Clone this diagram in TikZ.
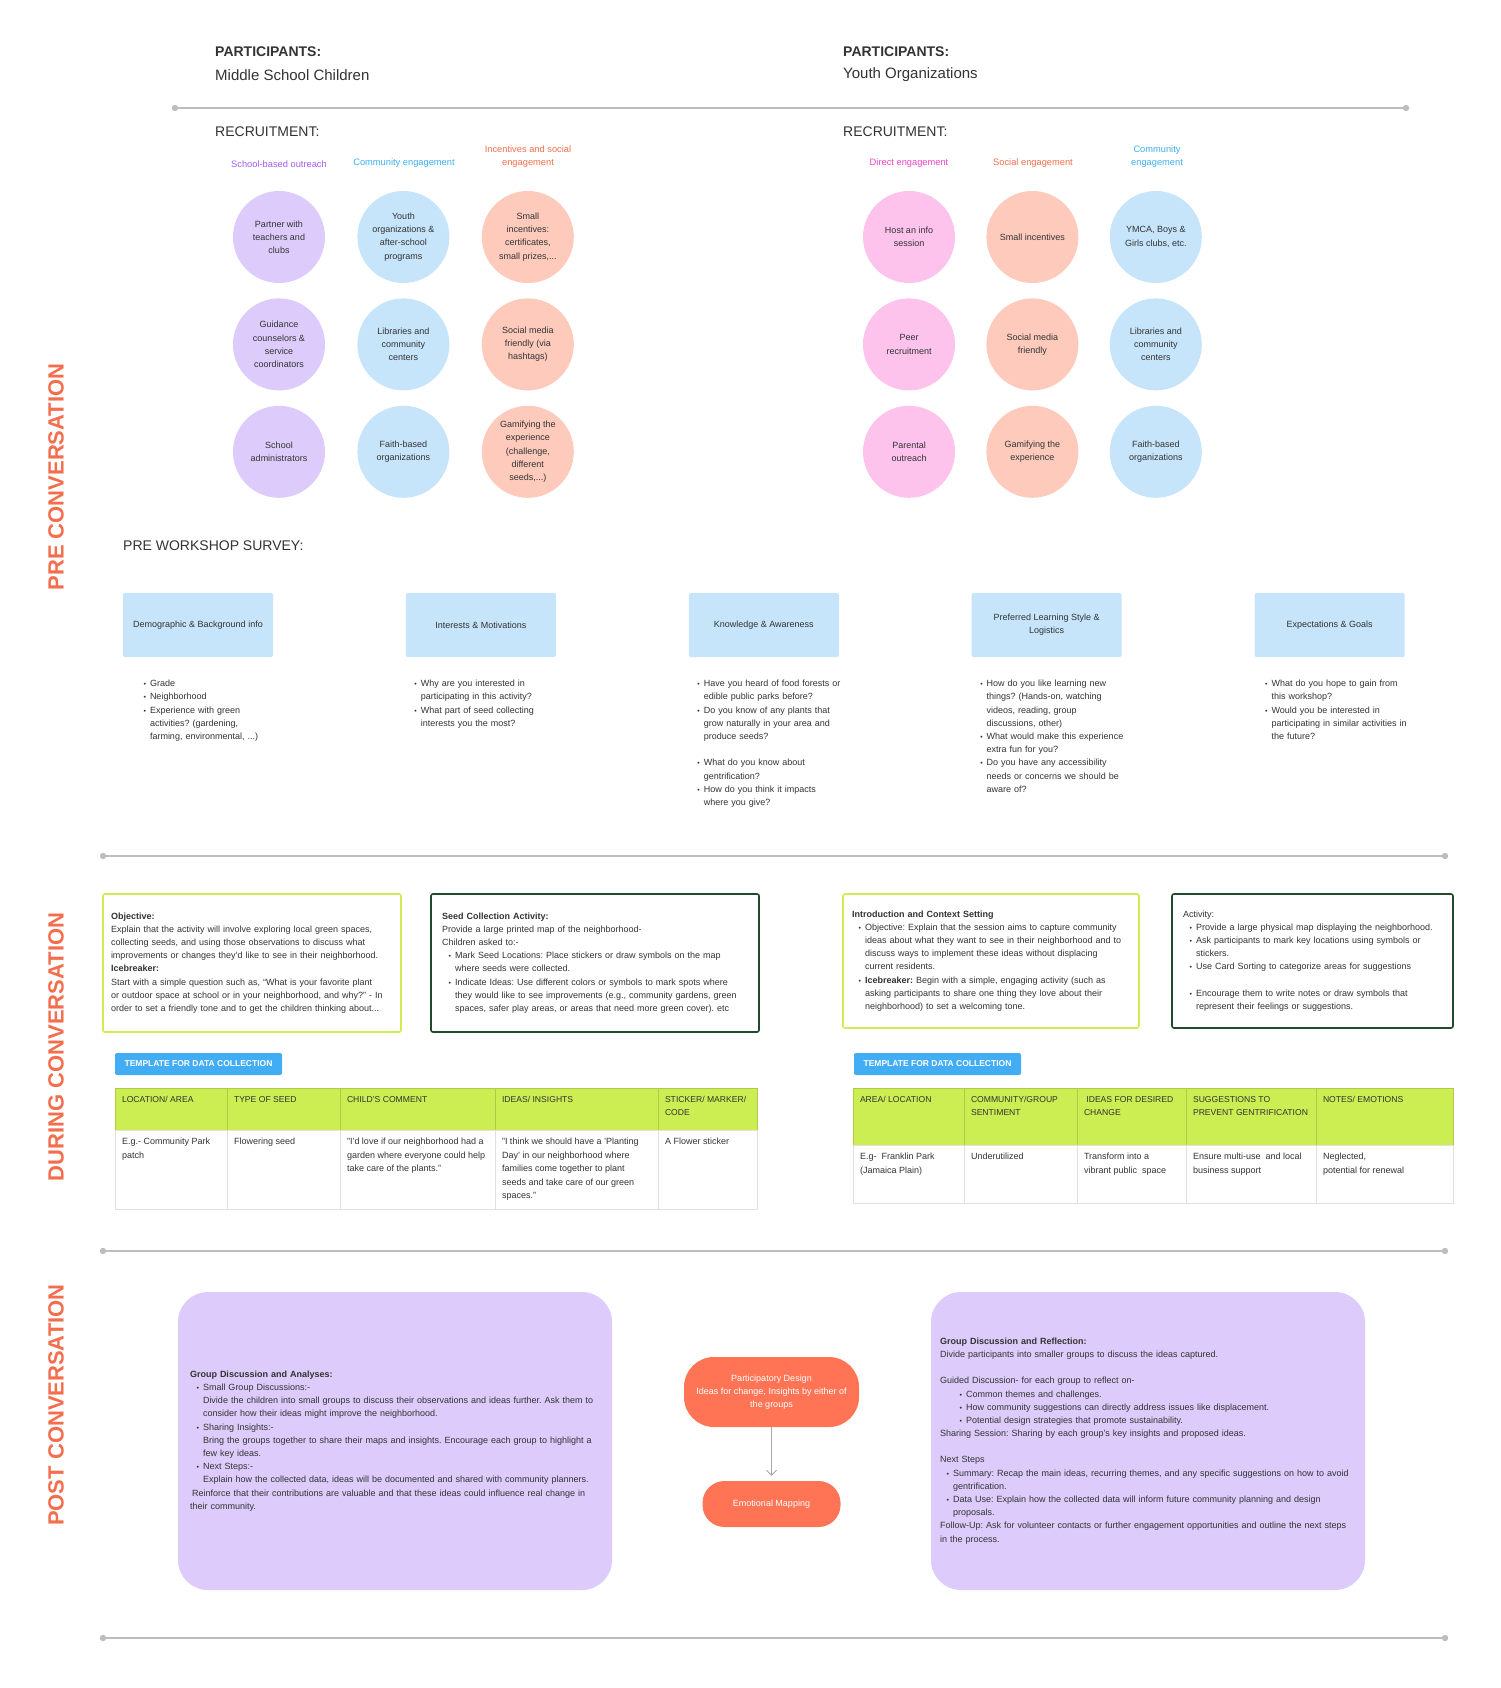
\documentclass[tikz,border=0pt]{standalone}
\usepackage{fontspec}
\setmainfont{Liberation Sans}
\usepackage{enumitem}
\usetikzlibrary{arrows.meta,positioning}
\definecolor{seedink}{HTML}{333333}
\definecolor{seedlilac}{HTML}{DCCBFB}
\definecolor{seedsky}{HTML}{C6E5FB}
\definecolor{seedpeach}{HTML}{FDCABB}
\definecolor{seedpink}{HTML}{FDC3EC}
\definecolor{seedviolet}{HTML}{A25DF2}
\definecolor{seedblue}{HTML}{3DB0F2}
\definecolor{seedcoral}{HTML}{F46E4E}
\definecolor{seedmagenta}{HTML}{EE45C6}
\definecolor{seedlime}{HTML}{CDEE52}
\definecolor{seedforest}{HTML}{1F4B2C}
\definecolor{seedbutton}{HTML}{42ADF5}
\definecolor{seedflame}{HTML}{FF7455}
\definecolor{seedrule}{HTML}{BDBDBD}
\setlength{\parindent}{0pt}
\frenchspacing
\newcommand{\bodyfont}{\fontsize{9}{13.2}\selectfont}
\newcommand{\cellfill}[3]{\parbox[t][#2][t]{#1}{\raggedright #3}}
\setlist[itemize]{label={\scriptsize\textbullet}, leftmargin=13pt, labelsep=4pt,
  itemsep=0pt, parsep=0pt, topsep=0pt, partopsep=0pt}

\begin{document}
\begin{tikzpicture}[
  x=1pt, y=-1pt,
  every node/.style={font=\bodyfont, text=seedink},
  heading/.style={anchor=west, inner xsep=0pt, font=\fontsize{14}{17}\selectfont},
  phaselabel/.style={rotate=90, text=seedcoral, font=\fontsize{22}{26}\selectfont\bfseries},
  tag/.style={anchor=south, align=center, font=\fontsize{9.3}{13}\selectfont},
  bubble/.style={circle, minimum size=92pt, inner sep=0pt, align=center},
  topic/.style={fill=seedsky, rounded corners=1.5pt, minimum width=150pt,
                minimum height=64pt, align=center},
  qlist/.style={text width=160pt, align=left, inner sep=0pt},
  brief/.style={draw=seedlime, line width=1.6pt, rounded corners=2pt, align=left},
  task/.style={draw=seedforest, line width=1.6pt, rounded corners=2pt, align=left},
  button/.style={fill=seedbutton, text=white, rounded corners=2pt, minimum width=167pt,
                 minimum height=22pt, font=\fontsize{8.5}{10}\selectfont\bfseries},
  headcell/.style={fill=seedlime, draw=seedlime!85!black, line width=0.5pt, outer sep=0pt,
                   inner xsep=7pt, inner ysep=8pt, anchor=north west,
                   font=\fontsize{8.6}{13.5}\selectfont},
  bodycell/.style={fill=white, draw=black!12, line width=0.5pt, outer sep=0pt,
                   inner xsep=7pt, inner ysep=8pt, anchor=north west,
                   font=\fontsize{9}{13.5}\selectfont},
  panel/.style={fill=seedlilac, rounded corners=30pt, align=left},
  pill/.style={fill=seedflame, text=white, align=center},
  divider/.style={draw=seedrule, line width=1.4pt},
  flow/.style={-{Straight Barb[length=5pt]}, draw=black!35, line width=0.8pt}
]
\useasboundingbox (0,0) rectangle (1500,1688);
\fill[white] (0,0) rectangle (1500,1688);

\node[heading, font=\fontsize{14}{17}\selectfont\bfseries] (partL) at (215,52) {PARTICIPANTS:};
\node[heading, font=\fontsize{15}{18}\selectfont] (groupL) at (215,75) {Middle School Children};
\node[heading, font=\fontsize{14}{17}\selectfont\bfseries] (partR) at (843,52) {PARTICIPANTS:};
\node[heading, font=\fontsize{15}{18}\selectfont] (groupR) at (843,75) {Youth Organizations};

\coordinate (r1a) at (175,108);
\coordinate (r1b) at (1406,108);
\draw[divider] (r1a) -- (r1b);
\fill[seedrule] (r1a) circle (3.2) (r1b) circle (3.2);

\node[heading] (recruitL) at (215,132) {RECRUITMENT:};
\node[heading] (recruitR) at (843,132) {RECRUITMENT:};

\node[tag, text=seedviolet] (tagschool) at (279,171) {School-based outreach};
\node[tag, text=seedblue] (tagcommL) at (404,171) {Community engagement};
\node[tag, text=seedcoral] (tagreward) at (528,171) {Incentives and social\\engagement};
\node[tag, text=seedmagenta] (tagdirect) at (909,171) {Direct engagement};
\node[tag, text=seedcoral] (tagsocial) at (1033,171) {Social engagement};
\node[tag, text=seedblue] (tagcommR) at (1157,171) {Community\\engagement};

\node[bubble, fill=seedlilac] (partner) at (279,237) {Partner with\\teachers and\\clubs};
\node[bubble, fill=seedsky, right=32pt of partner] (youthorg) {Youth\\organizations \&\\after-school\\programs};
\node[bubble, fill=seedpeach, right=32pt of youthorg] (smallprize) {Small\\incentives:\\certificates,\\small prizes,...};
\node[bubble, fill=seedlilac, below=15pt of partner] (guidance) {Guidance\\counselors \&\\service\\coordinators};
\node[bubble, fill=seedsky, below=15pt of youthorg] (libraryL) {Libraries and\\community\\centers};
\node[bubble, fill=seedpeach, below=15pt of smallprize] (hashtag) {Social media\\friendly (via\\hashtags)};
\node[bubble, fill=seedlilac, below=15pt of guidance] (admins) {School\\administrators};
\node[bubble, fill=seedsky, below=15pt of libraryL] (faithL) {Faith-based\\organizations};
\node[bubble, fill=seedpeach, below=15pt of hashtag] (gameL) {Gamifying the\\experience\\(challenge,\\different\\seeds,...)};

\node[bubble, fill=seedpink] (infosession) at (909,237) {Host an info\\session};
\node[bubble, fill=seedpeach, right=31pt of infosession] (incentR) {Small incentives};
\node[bubble, fill=seedsky, right=31pt of incentR] (ymca) {YMCA, Boys \&\\Girls clubs, etc.};
\node[bubble, fill=seedpink, below=15pt of infosession] (peer) {Peer\\recruitment};
\node[bubble, fill=seedpeach, below=15pt of incentR] (socialR) {Social media\\friendly};
\node[bubble, fill=seedsky, below=15pt of ymca] (libraryR) {Libraries and\\community\\centers};
\node[bubble, fill=seedpink, below=15pt of peer] (parents) {Parental\\outreach};
\node[bubble, fill=seedpeach, below=15pt of socialR] (gameR) {Gamifying the\\experience};
\node[bubble, fill=seedsky, below=15pt of libraryR] (faithR) {Faith-based\\organizations};

\node[heading] (survey) at (123,546) {PRE WORKSHOP SURVEY:};

\node[topic] (demog) at (198,625) {Demographic \& Background info};
\node[topic, right=132.5pt of demog] (interest) {Interests \& Motivations};
\node[topic, right=132.5pt of interest] (aware) {Knowledge \& Awareness};
\node[topic, right=132.5pt of aware] (learnstyle) {Preferred Learning Style \&\\Logistics};
\node[topic, right=132.5pt of learnstyle] (goals) {Expectations \& Goals};

\node[qlist, below right=16pt and 14pt of demog.south west] (demoglist) {\begin{itemize}
  \item Grade
  \item Neighborhood
  \item Experience with green\\activities? (gardening,\\farming, environmental, ...)
\end{itemize}};
\node[qlist, below right=16pt and 2pt of interest.south west] (interestlist) {\begin{itemize}
  \item Why are you interested in\\participating in this activity?
  \item What part of seed collecting\\interests you the most?
\end{itemize}};
\node[qlist, below right=16pt and 2pt of aware.south west] (awarelist) {\begin{itemize}
  \item Have you heard of food forests or\\edible public parks before?
  \item Do you know of any plants that\\grow naturally in your area and\\produce seeds?
  \item[] \mbox{}
  \item What do you know about\\gentrification?
  \item How do you think it impacts\\where you give?
\end{itemize}};
\node[qlist, below right=16pt and 2pt of learnstyle.south west] (learnlist) {\begin{itemize}
  \item How do you like learning new\\things? (Hands-on, watching\\videos, reading, group\\discussions, other)
  \item What would make this experience\\extra fun for you?
  \item Do you have any accessibility\\needs or concerns we should be\\aware of?
\end{itemize}};
\node[qlist, below right=16pt and 4pt of goals.south west] (goalslist) {\begin{itemize}
  \item What do you hope to gain from\\this workshop?
  \item Would you be interested in\\participating in similar activities in\\the future?
\end{itemize}};

\coordinate (r2a) at (103,856);
\coordinate (r2b) at (1445,856);
\draw[divider] (r2a) -- (r2b);
\fill[seedrule] (r2a) circle (3.2) (r2b) circle (3.2);

\node[brief, text width=282pt, inner xsep=8pt, minimum height=138pt] (objective) at (252,963) {%
  \textbf{Objective:}\\
  Explain that the activity will involve exploring local green spaces,\\
  collecting seeds, and using those observations to discuss what\\
  improvements or changes they'd like to see in their neighborhood.\\
  \textbf{Icebreaker:}\\
  Start with a simple question such as, “What is your favorite plant\\
  or outdoor space at school or in your neighborhood, and why?” - In\\
  order to set a friendly tone and to get the children thinking about...};
\node[task, text width=306pt, inner xsep=11pt, minimum height=138pt] (seedwalk) at (595,963) {%
  \textbf{Seed Collection Activity:}\\
  Provide a large printed map of the neighborhood-\\
  Children asked to:-
  \begin{itemize}
    \item Mark Seed Locations: Place stickers or draw symbols on the map\\where seeds were collected.
    \item Indicate Ideas: Use different colors or symbols to mark spots where\\they would like to see improvements (e.g., community gardens, green\\spaces, safer play areas, or areas that need more green cover). etc
  \end{itemize}};
\node[brief, text width=278pt, inner xsep=9pt, minimum height=134pt] (intro) at (991,961) {%
  \textbf{Introduction and Context Setting}
  \begin{itemize}
    \item Objective: Explain that the session aims to capture community\\ideas about what they want to see in their neighborhood and to\\discuss ways to implement these ideas without displacing\\current residents.
    \item \textbf{Icebreaker:} Begin with a simple, engaging activity (such as\\asking participants to share one thing they love about their\\neighborhood) to set a welcoming tone.
  \end{itemize}};
\node[task, text width=259pt, inner xsep=11pt, minimum height=134pt] (mapping) at (1312.5,961) {%
  Activity:
  \begin{itemize}
    \item Provide a large physical map displaying the neighborhood.
    \item Ask participants to mark key locations using symbols or\\stickers.
    \item Use Card Sorting to categorize areas for suggestions
    \item[] \mbox{}
    \item Encourage them to write notes or draw symbols that\\represent their feelings or suggestions.
  \end{itemize}};

\node[button] (templateL) at (198.5,1064) {TEMPLATE FOR DATA COLLECTION};
\node[button] (templateR) at (937.5,1064) {TEMPLATE FOR DATA COLLECTION};

\node[headcell] (hlocation) at (115,1088) {\cellfill{98pt}{26pt}{LOCATION/ AREA}};
\node[headcell, right=0pt of hlocation] (hseed) {\cellfill{99pt}{26pt}{TYPE OF SEED}};
\node[headcell, right=0pt of hseed] (hcomment) {\cellfill{141pt}{26pt}{CHILD'S COMMENT}};
\node[headcell, right=0pt of hcomment] (hinsight) {\cellfill{149pt}{26pt}{IDEAS/ INSIGHTS}};
\node[headcell, right=0pt of hinsight] (hsticker) {\cellfill{85pt}{26pt}{\mbox{STICKER/ MARKER/}\\CODE}};
\node[bodycell, below=0pt of hlocation] (blocation) {\cellfill{98pt}{63pt}{E.g.- Community Park\\patch}};
\node[bodycell, below=0pt of hseed] (bseed) {\cellfill{99pt}{63pt}{Flowering seed}};
\node[bodycell, below=0pt of hcomment] (bcomment) {\cellfill{141pt}{63pt}{"I'd love if our neighborhood had a\\garden where everyone could help\\take care of the plants."}};
\node[bodycell, below=0pt of hinsight] (binsight) {\cellfill{149pt}{63pt}{"I think we should have a 'Planting\\Day' in our neighborhood where\\families come together to plant\\seeds and take care of our green\\spaces."}};
\node[bodycell, below=0pt of hsticker] (bsticker) {\cellfill{85pt}{63pt}{A Flower sticker}};

\node[headcell] (harea) at (853,1088) {\cellfill{97pt}{41pt}{AREA/ LOCATION}};
\node[headcell, right=0pt of harea] (hsentiment) {\cellfill{99pt}{41pt}{COMMUNITY/GROUP\\SENTIMENT}};
\node[headcell, right=0pt of hsentiment] (hchange) {\cellfill{95pt}{41pt}{\ IDEAS FOR DESIRED\\CHANGE}};
\node[headcell, right=0pt of hchange] (hprevent) {\cellfill{116pt}{41pt}{SUGGESTIONS TO\\\mbox{PREVENT GENTRIFICATION}}};
\node[headcell, right=0pt of hprevent] (hnotes) {\cellfill{123pt}{41pt}{NOTES/ EMOTIONS}};
\node[bodycell, below=0pt of harea] (barea) {\cellfill{97pt}{42pt}{E.g-\ \ Franklin Park\\(Jamaica Plain)}};
\node[bodycell, below=0pt of hsentiment] (bsentiment) {\cellfill{99pt}{42pt}{Underutilized}};
\node[bodycell, below=0pt of hchange] (bchange) {\cellfill{95pt}{42pt}{Transform into a\\vibrant public\ \ space}};
\node[bodycell, below=0pt of hprevent] (bprevent) {\cellfill{116pt}{42pt}{Ensure multi-use\ \ and local\\business support}};
\node[bodycell, below=0pt of hnotes] (bnotes) {\cellfill{123pt}{42pt}{Neglected,\\potential for renewal}};

\coordinate (r3a) at (103,1251);
\coordinate (r3b) at (1445,1251);
\draw[divider] (r3a) -- (r3b);
\fill[seedrule] (r3a) circle (3.2) (r3b) circle (3.2);

\node[panel, text width=410pt, minimum width=434pt, minimum height=298pt] (analyses) at (395,1441) {%
  \textbf{Group Discussion and Analyses:}
  \begin{itemize}
    \item Small Group Discussions:-\\Divide the children into small groups to discuss their observations and ideas further. Ask them to\\consider how their ideas might improve the neighborhood.
    \item Sharing Insights:-\\Bring the groups together to share their maps and insights. Encourage each group to highlight a\\few key ideas.
    \item Next Steps:-\\Explain how the collected data, ideas will be documented and shared with community planners.
  \end{itemize}
  \hspace*{2pt}Reinforce that their contributions are valuable and that these ideas could influence real change in\\
  their community.};

\node[pill, minimum width=175pt, minimum height=70pt, rounded corners=30pt] (design) at (771.5,1392) {Participatory Design\\Ideas for change, Insights by either of\\the groups};
\node[pill, minimum width=138pt, minimum height=46pt, rounded corners=22pt] (emotion) at (771.5,1504) {Emotional Mapping};
\draw[flow, shorten >=5pt] (design) -- (emotion);

\node[panel, text width=416pt, minimum width=434pt, minimum height=298pt] (reflection) at (1148,1441) {%
  \textbf{Group Discussion and Reflection:}\\
  Divide participants into smaller groups to discuss the ideas captured.\\[13pt]
  Guided Discussion- for each group to reflect on-
  \begin{itemize}[leftmargin=26pt]
    \item Common themes and challenges.
    \item How community suggestions can directly address issues like displacement.
    \item Potential design strategies that promote sustainability.
  \end{itemize}
  Sharing Session: Sharing by each group’s key insights and proposed ideas.\\[13pt]
  Next Steps
  \begin{itemize}
    \item Summary: Recap the main ideas, recurring themes, and any specific suggestions on how to avoid\\gentrification.
    \item Data Use: Explain how the collected data will inform future community planning and design\\proposals.
  \end{itemize}
  Follow-Up: Ask for volunteer contacts or further engagement opportunities and outline the next steps\\
  in the process.};

\coordinate (r4a) at (103,1638);
\coordinate (r4b) at (1445,1638);
\draw[divider] (r4a) -- (r4b);
\fill[seedrule] (r4a) circle (3.2) (r4b) circle (3.2);

\node[phaselabel] (prephase) at (56,477) {PRE CONVERSATION};
\node[phaselabel] (duringphase) at (56,1047) {DURING CONVERSATION};
\node[phaselabel] (postphase) at (56,1405) {POST CONVERSATION};
\end{tikzpicture}
\end{document}
